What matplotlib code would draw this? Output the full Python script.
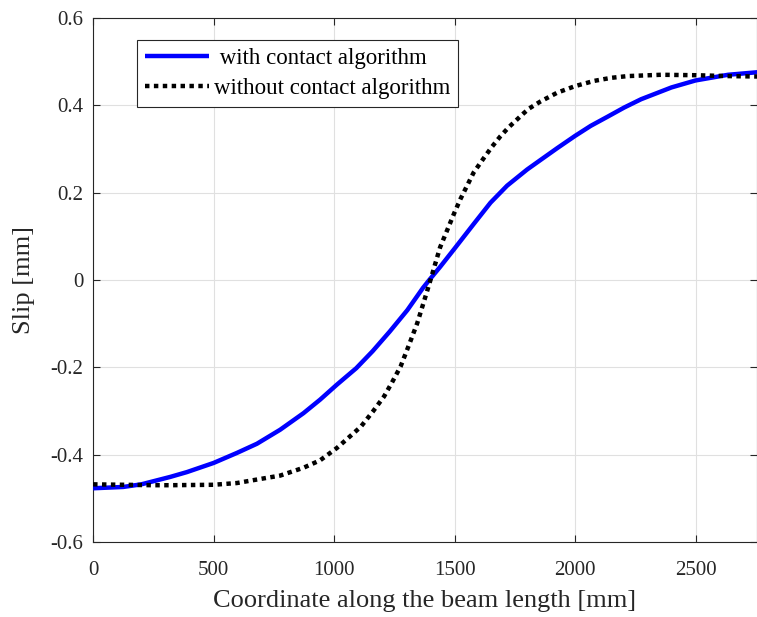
import numpy as np
import matplotlib
matplotlib.use("Agg")
import matplotlib.pyplot as plt

# slip along the beam, read in mm
x_with = [0, 125, 200, 320, 389, 500, 597, 680, 776, 873, 942, 1011, 1092, 1160,
          1231, 1304, 1369, 1395, 1440, 1500, 1579, 1649, 1718, 1801, 1857, 1926,
          2000, 2065, 2135, 2204, 2274, 2400, 2500, 2635, 2760]
slip_with = [-0.477, -0.474, -0.468, -0.451, -0.440, -0.419, -0.396, -0.375, -0.343,
             -0.305, -0.274, -0.240, -0.202, -0.163, -0.118, -0.069, -0.018, 0.0,
             0.030, 0.072, 0.128, 0.177, 0.216, 0.253, 0.275, 0.302, 0.330, 0.353,
             0.374, 0.395, 0.414, 0.441, 0.457, 0.470, 0.476]

x_without = [0, 125, 250, 320, 500, 597, 680, 776, 873, 942, 1011, 1050, 1111, 1160,
             1207, 1240, 1276, 1310, 1345, 1378, 1400, 1440, 1500, 1524, 1579, 1621,
             1655, 1690, 1725, 1760, 1787, 1810, 1857, 1926, 2000, 2079, 2150, 2218,
             2357, 2500, 2635, 2760]
slip_without = [-0.468, -0.469, -0.470, -0.470, -0.469, -0.465, -0.457, -0.448,
                -0.430, -0.413, -0.385, -0.366, -0.336, -0.302, -0.267, -0.235,
                -0.198, -0.150, -0.099, -0.040, 0.0, 0.075, 0.155, 0.185, 0.246,
                0.279, 0.305, 0.329, 0.350, 0.368, 0.382, 0.393, 0.409, 0.429, 0.444,
                0.456, 0.463, 0.467, 0.470, 0.469, 0.467, 0.466]

xticks = [0, 500, 1000, 1500, 2000, 2500]
yticks = [-0.6, -0.4, -0.2, 0, 0.2, 0.4, 0.6]
ytick_labels = ["-0.6", "-0.4", "-0.2", "0", "0.2", "0.4", "0.6"]

plt.rcParams["font.family"] = ["Liberation Serif", "DejaVu Serif"]
ink = "#262626"

fig = plt.figure(figsize=(7.57, 6.17), dpi=100)
ax = fig.add_axes([0.123, 0.1216, 0.877, 0.8492])

ax.plot(x_with, slip_with, color="blue", lw=3.2, solid_capstyle="butt",
        solid_joinstyle="round", label=" with contact algorithm", zorder=3)
ax.plot(x_without, slip_without, color="black", lw=3.2, dashes=(1, 1),
        dash_capstyle="butt", label="without contact algorithm", zorder=4)

ax.set_xlim(0, 2755)
ax.set_ylim(-0.6, 0.6)
ax.set_xticks(xticks)
ax.set_yticks(yticks)
ax.set_yticklabels(ytick_labels)
ax.grid(True, color="#e0e0e0", lw=0.8)
ax.set_axisbelow(True)
ax.tick_params(direction="in", top=True, right=True, length=5, width=0.8,
               colors=ink, labelsize=15)
ax.tick_params(axis="x", pad=14)
ax.tick_params(axis="y", pad=7)
for s in ax.spines.values():
    s.set_color(ink)
    s.set_linewidth(0.8)

ax.set_xlabel("Coordinate along the beam length [mm]", fontsize=19, color=ink,
              labelpad=7)
ax.set_ylabel("Slip [mm]", fontsize=19, color=ink, labelpad=11)

leg = ax.legend(loc="upper left", bbox_to_anchor=(0.066, 0.958), borderaxespad=0,
                fontsize=16.5, handlelength=2.8, handletextpad=0.2, fancybox=False,
                framealpha=1, borderpad=0.35, labelspacing=0.4)
leg.get_frame().set_edgecolor(ink)
leg.get_frame().set_linewidth(0.8)

fig.savefig("out.png", dpi=100)
